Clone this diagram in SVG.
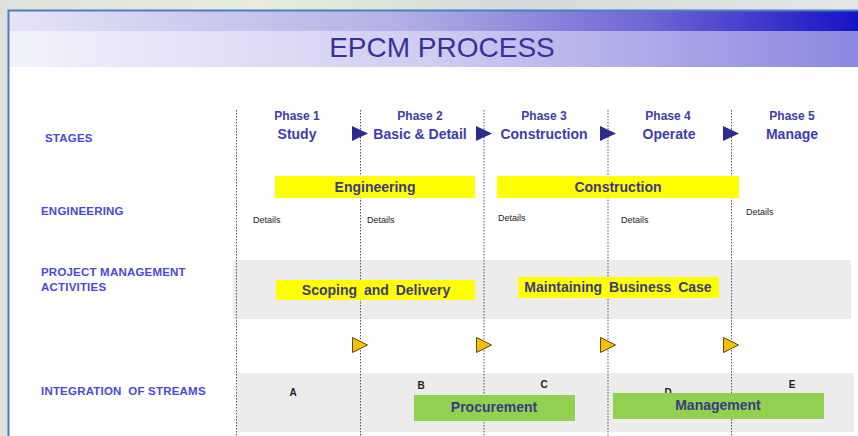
<svg xmlns="http://www.w3.org/2000/svg" width="858" height="436" viewBox="0 0 858 436">
<defs>
<linearGradient id="gTop" x1="0" y1="0" x2="1" y2="0">
<stop offset="0" stop-color="#e4e4f7"/>
<stop offset="0.45" stop-color="#b4b2e6"/>
<stop offset="0.75" stop-color="#6e68d4"/>
<stop offset="1" stop-color="#1812c6"/>
</linearGradient>
<linearGradient id="gTitle" x1="0" y1="0" x2="1" y2="0">
<stop offset="0" stop-color="#f2f2fc"/>
<stop offset="0.5" stop-color="#cfcdf0"/>
<stop offset="1" stop-color="#8a88e0"/>
</linearGradient>
<linearGradient id="gBg" x1="0" y1="0" x2="1" y2="0">
<stop offset="0" stop-color="#dde2dc"/>
<stop offset="0.3" stop-color="#e8ecd8"/>
<stop offset="0.6" stop-color="#d6d9d8"/>
<stop offset="1" stop-color="#e4e6e6"/>
</linearGradient>
</defs>
<style>
.row{font-family:"Liberation Sans",Arial,sans-serif;font-weight:bold;font-size:11.5px;letter-spacing:0.2px;fill:#4a48dc}
.ph{font-family:"Liberation Sans",Arial,sans-serif;font-weight:bold;font-size:12px;fill:#3e3cac;text-anchor:middle}
.st{font-family:"Liberation Sans",Arial,sans-serif;font-weight:bold;font-size:14px;fill:#3e3cac;text-anchor:middle}
.bar{font-family:"Liberation Sans",Arial,sans-serif;font-weight:bold;font-size:14px;fill:#3c3a80;text-anchor:middle}
.det{font-family:"Liberation Sans",Arial,sans-serif;font-size:9px;fill:#1a1a1a}
.let{font-family:"Liberation Sans",Arial,sans-serif;font-weight:bold;font-size:10px;fill:#1e1e1e;text-anchor:middle}
.dot{stroke:#555;stroke-width:1;stroke-dasharray:1.5 1.5;fill:none}
.ylw{fill:#ffff00}
.grn{fill:#92d050}
.band{fill:#ececec}
.bt{fill:#2c2c8c}
.yt{fill:#f8c000;stroke:#5a4a10;stroke-width:1}
</style>
<rect x="0" y="0" width="858" height="436" fill="url(#gBg)"/>
<rect x="8" y="10" width="850" height="426" fill="#ffffff"/>
<rect x="9" y="11" width="849" height="20" fill="url(#gTop)"/>
<rect x="9" y="31" width="849" height="36" fill="url(#gTitle)"/>
<path d="M8.5 436 V10.5 H858" stroke="#4a7fc0" stroke-width="2" fill="none"/>
<text x="442" y="57" font-family="Liberation Sans,Arial,sans-serif" font-size="28" fill="#3a309c" text-anchor="middle">EPCM PROCESS</text>

<g id="row-labels">
<text class="row" x="45" y="142">STAGES</text>
<text class="row" x="41" y="215">ENGINEERING</text>
<text class="row" x="41" y="276">PROJECT MANAGEMENT</text>
<text class="row" x="41" y="291">ACTIVITIES</text>
<text class="row" x="41" y="395" xml:space="preserve">INTEGRATION  OF STREAMS</text>
</g>

<g id="bands">
<rect class="band" x="233" y="260" width="618" height="59"/>
<rect class="band" x="237" y="373" width="617" height="59"/>
</g>

<g id="connectors">
<line class="dot" x1="236.5" y1="110" x2="236.5" y2="436"/>
<line class="dot" x1="360.5" y1="110" x2="360.5" y2="436"/>
<line class="dot" x1="484" y1="110" x2="484" y2="436"/>
<line class="dot" x1="608" y1="110" x2="608" y2="436"/>
<line class="dot" x1="731.5" y1="110" x2="731.5" y2="436"/>
<polygon class="bt" points="352,126 368,133.5 352,141"/>
<polygon class="bt" points="476,126 492,133.5 476,141"/>
<polygon class="bt" points="600,126 616,133.5 600,141"/>
<polygon class="bt" points="723,126 739,133.5 723,141"/>
<polygon class="yt" points="352.5,337.5 367.5,345 352.5,352.5"/>
<polygon class="yt" points="476.5,337.5 491.5,345 476.5,352.5"/>
<polygon class="yt" points="600.5,337.5 615.5,345 600.5,352.5"/>
<polygon class="yt" points="723.5,337.5 738.5,345 723.5,352.5"/>
</g>

<g id="phase1"><text class="ph" x="297" y="120">Phase 1</text><text class="st" x="297" y="139">Study</text></g>
<g id="phase2"><text class="ph" x="420" y="120">Phase 2</text><text class="st" x="420" y="139">Basic &amp; Detail</text></g>
<g id="phase3"><text class="ph" x="544" y="120">Phase 3</text><text class="st" x="544" y="139">Construction</text></g>
<g id="phase4"><text class="ph" x="668" y="120">Phase 4</text><text class="st" x="669" y="139">Operate</text></g>
<g id="phase5"><text class="ph" x="792" y="120">Phase 5</text><text class="st" x="792" y="139">Manage</text></g>

<g id="engineering"><rect class="ylw" x="275" y="176" width="200" height="22"/><text class="bar" x="375" y="192">Engineering</text></g>
<g id="construction"><rect class="ylw" x="497" y="176" width="242" height="22"/><text class="bar" x="618" y="192">Construction</text></g>

<g id="details">
<text class="det" x="253" y="223">Details</text>
<text class="det" x="367" y="223">Details</text>
<text class="det" x="498" y="221">Details</text>
<text class="det" x="621" y="223">Details</text>
<text class="det" x="746" y="215">Details</text>
</g>

<g id="scoping"><rect class="ylw" x="276" y="280" width="199" height="20"/><text class="bar" x="376" y="295" word-spacing="3">Scoping and Delivery</text></g>
<g id="business-case"><rect class="ylw" x="518" y="277" width="201" height="21"/><text class="bar" x="618" y="292" word-spacing="3">Maintaining Business Case</text></g>

<g id="letters">
<text class="let" x="293" y="396">A</text>
<text class="let" x="421" y="389">B</text>
<text class="let" x="544" y="388">C</text>
<text class="let" x="668" y="396">D</text>
<text class="let" x="792" y="388">E</text>
</g>

<g id="procurement"><rect class="grn" x="414" y="395" width="161" height="26"/><text class="bar" x="494" y="412">Procurement</text></g>
<g id="management"><rect class="grn" x="613" y="393" width="211" height="26"/><text class="bar" x="718" y="410">Management</text></g>
</svg>
